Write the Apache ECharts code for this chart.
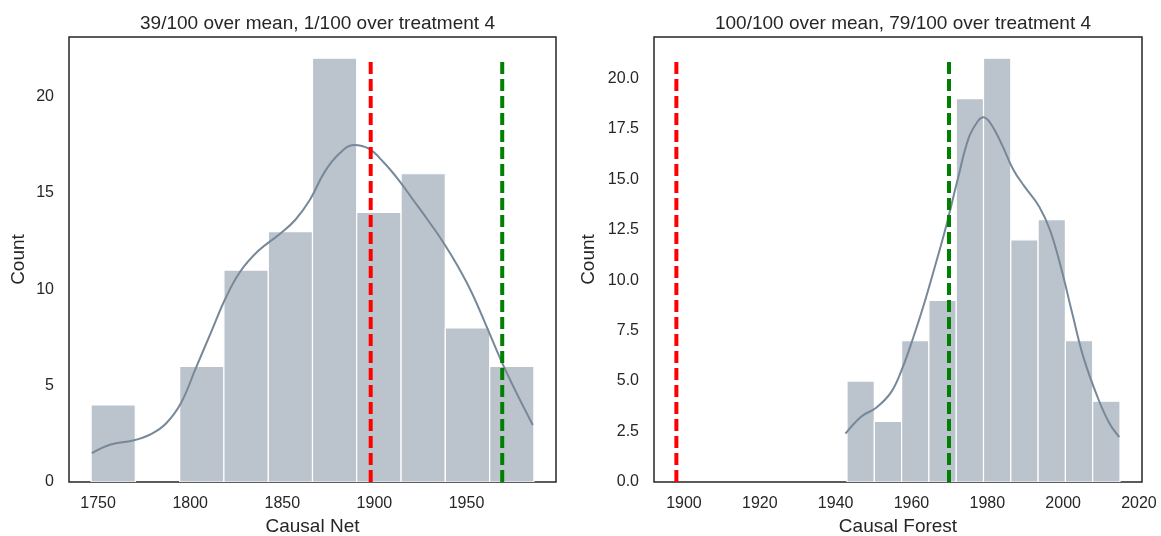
<!DOCTYPE html>
<html>
<head>
<meta charset="utf-8">
<script src="https://cdn.jsdelivr.net/npm/echarts@6/dist/echarts.min.js"></script>
<style>
html,body{margin:0;padding:0;background:#fff;}
#chart{width:1161px;height:536px;}
</style>
</head>
<body>
<div id="chart"></div>
<script>
// ---------- Data ----------
const netTitle = "39/100 over mean, 1/100 over treatment 4";
const forestTitle = "100/100 over mean, 79/100 over treatment 4";
const netXLabel = "Causal Net";
const forestXLabel = "Causal Forest";
const yLabel = "Count";

// Causal Net histogram (bin edges and counts)
const netBinEdges = [1746.2, 1770.2, 1794.3, 1818.3, 1842.4, 1866.4, 1890.4, 1914.5, 1938.5, 1962.6, 1986.6];
const netCounts = [4, 0, 6, 11, 13, 22, 14, 16, 8, 6];
// Causal Net KDE curve
const netKdeX = [1746.6, 1756.8, 1769, 1779, 1787, 1795, 1803, 1811, 1819, 1827, 1837, 1849, 1857, 1865, 1873, 1881, 1889, 1897, 1905, 1913, 1921, 1929, 1937, 1945, 1953, 1961, 1969, 1977, 1986];
const netKdeY = [1.5, 1.95, 2.15, 2.5, 3.05, 4.1, 5.9, 7.7, 9.5, 10.9, 12.0, 12.9, 13.6, 14.65, 16.1, 17.05, 17.5, 17.3, 16.6, 15.7, 14.65, 13.6, 12.5, 11.25, 9.8, 8.05, 6.26, 4.65, 2.96];

// Causal Forest histogram
const forestBinEdges = [1943.0, 1950.2, 1957.4, 1964.6, 1971.8, 1979.0, 1986.2, 1993.4, 2000.6, 2007.8, 2015.0];
const forestCounts = [5, 3, 7, 9, 19, 21, 12, 13, 7, 4];
// Causal Forest KDE curve
const forestKdeX = [1942.6, 1946.8, 1950.7, 1954.6, 1957.6, 1960.5, 1963.4, 1966.3, 1969.3, 1972.2, 1975.1, 1977.6, 1979.0, 1981.0, 1983.9, 1986.8, 1989.7, 1993.7, 1996.6, 1999.5, 2002.4, 2005.4, 2009.3, 2012.2, 2014.8];
const forestKdeY = [2.4, 3.25, 3.68, 4.44, 5.64, 7.17, 8.87, 10.75, 12.79, 15.0, 17.05, 17.9, 18.07, 17.73, 16.7, 15.5, 14.67, 13.64, 12.45, 10.58, 8.36, 6.15, 4.1, 2.91, 2.23];

// Reference lines (mean = red, treatment 4 = green)
const meanValue = 1898.0;
const netTreatment = 1969.4;
const forestTreatment = 1969.9;

// Axis ranges and ticks
const netXRange = [1734.2, 1998.6];
const forestXRange = [1892.1, 2020.8];
const netYMax = 23.1;
const forestYMax = 22.05;
const netXTicks = [1750, 1800, 1850, 1900, 1950];
const forestXTicks = [1900, 1920, 1940, 1960, 1980, 2000, 2020];
const netYTicks = [0, 5, 10, 15, 20];
const forestYTicks = [0, 2.5, 5, 7.5, 10, 12.5, 15, 17.5, 20];

// ---------- Build ----------
const TEXT = '#262626';
const FONT = '"Liberation Sans", Arial, sans-serif';
const BAR_FILL = '#bbc3cc';
const KDE_COLOR = '#778899';

function histData(edges, counts) {
  return counts.map((c, i) => [edges[i], edges[i + 1], c]);
}
function zip(xs, ys) { return xs.map((x, i) => [x, ys[i]]); }

function renderBar(params, api) {
  const x0 = api.value(0), x1 = api.value(1), c = api.value(2);
  if (!c) return null;
  const p0 = api.coord([x0, c]);
  const p1 = api.coord([x1, 0]);
  return {
    type: 'rect',
    shape: { x: p0[0], y: p0[1], width: p1[0] - p0[0], height: p1[1] - p0[1] },
    style: { fill: BAR_FILL, stroke: '#ffffff', lineWidth: 1.2 }
  };
}

function vline(x, top, color, idx) {
  return {
    type: 'line', xAxisIndex: idx, yAxisIndex: idx,
    data: [[x, 0], [x, top]], symbol: 'none', z: 5,
    lineStyle: { color: color, width: 4, type: [12, 5] }
  };
}

const axisLabelStyle = { color: TEXT, fontSize: 16, fontFamily: FONT };
const nameStyle = { color: TEXT, fontSize: 19, fontFamily: FONT };

const option = {
  animation: false,
  backgroundColor: '#ffffff',
  title: [
    { text: netTitle, left: 312.5, top: 9, textAlign: 'center',
      textStyle: { color: TEXT, fontSize: 19, fontWeight: 'normal', fontFamily: FONT } },
    { text: forestTitle, left: 898, top: 9, textAlign: 'center',
      textStyle: { color: TEXT, fontSize: 19, fontWeight: 'normal', fontFamily: FONT } }
  ],
  grid: [
    { left: 69, top: 37, width: 487, height: 445, outerBoundsMode: 'none', containLabel: false,
      show: true, borderColor: '#262626', borderWidth: 1.5, backgroundColor: 'transparent' },
    { left: 654, top: 37, width: 488, height: 445, outerBoundsMode: 'none', containLabel: false,
      show: true, borderColor: '#262626', borderWidth: 1.5, backgroundColor: 'transparent' }
  ],
  xAxis: [
    { type: 'value', gridIndex: 0, min: netXRange[0], max: netXRange[1],
      name: netXLabel, nameLocation: 'middle', nameGap: 35, nameTextStyle: nameStyle,
      axisLine: { show: false }, axisTick: { show: false }, splitLine: { show: false },
      axisLabel: Object.assign({ customValues: netXTicks, margin: 14, formatter: v => String(v) }, axisLabelStyle) },
    { type: 'value', gridIndex: 1, min: forestXRange[0], max: forestXRange[1],
      name: forestXLabel, nameLocation: 'middle', nameGap: 35, nameTextStyle: nameStyle,
      axisLine: { show: false }, axisTick: { show: false }, splitLine: { show: false },
      axisLabel: Object.assign({ customValues: forestXTicks, margin: 14, formatter: v => String(v) }, axisLabelStyle) }
  ],
  yAxis: [
    { type: 'value', gridIndex: 0, min: 0, max: netYMax,
      name: yLabel, nameLocation: 'middle', nameGap: 41, nameTextStyle: nameStyle,
      axisLine: { show: false }, axisTick: { show: false }, splitLine: { show: false },
      axisLabel: Object.assign({ customValues: netYTicks, margin: 15, formatter: v => String(v) }, axisLabelStyle) },
    { type: 'value', gridIndex: 1, min: 0, max: forestYMax,
      name: yLabel, nameLocation: 'middle', nameGap: 56, nameTextStyle: nameStyle,
      axisLine: { show: false }, axisTick: { show: false }, splitLine: { show: false },
      axisLabel: Object.assign({ customValues: forestYTicks, margin: 15,
        formatter: v => Number(v).toFixed(1) }, axisLabelStyle) }
  ],
  series: [
    { type: 'custom', xAxisIndex: 0, yAxisIndex: 0, renderItem: renderBar,
      data: histData(netBinEdges, netCounts), encode: { x: [0, 1], y: 2 }, clip: true },
    { type: 'line', xAxisIndex: 0, yAxisIndex: 0, data: zip(netKdeX, netKdeY),
      smooth: 0.4, symbol: 'none', z: 4, lineStyle: { color: KDE_COLOR, width: 2 } },
    vline(meanValue, Math.max(...netCounts), '#ff0000', 0),
    vline(netTreatment, Math.max(...netCounts), '#008000', 0),

    { type: 'custom', xAxisIndex: 1, yAxisIndex: 1, renderItem: renderBar,
      data: histData(forestBinEdges, forestCounts), encode: { x: [0, 1], y: 2 }, clip: true },
    { type: 'line', xAxisIndex: 1, yAxisIndex: 1, data: zip(forestKdeX, forestKdeY),
      smooth: 0.4, symbol: 'none', z: 4, lineStyle: { color: KDE_COLOR, width: 2 } },
    vline(meanValue, Math.max(...forestCounts), '#ff0000', 1),
    vline(forestTreatment, Math.max(...forestCounts), '#008000', 1)
  ]
};

const chart = echarts.init(document.getElementById('chart'), null, { renderer: 'canvas' });
chart.setOption(option);
</script>
</body>
</html>
